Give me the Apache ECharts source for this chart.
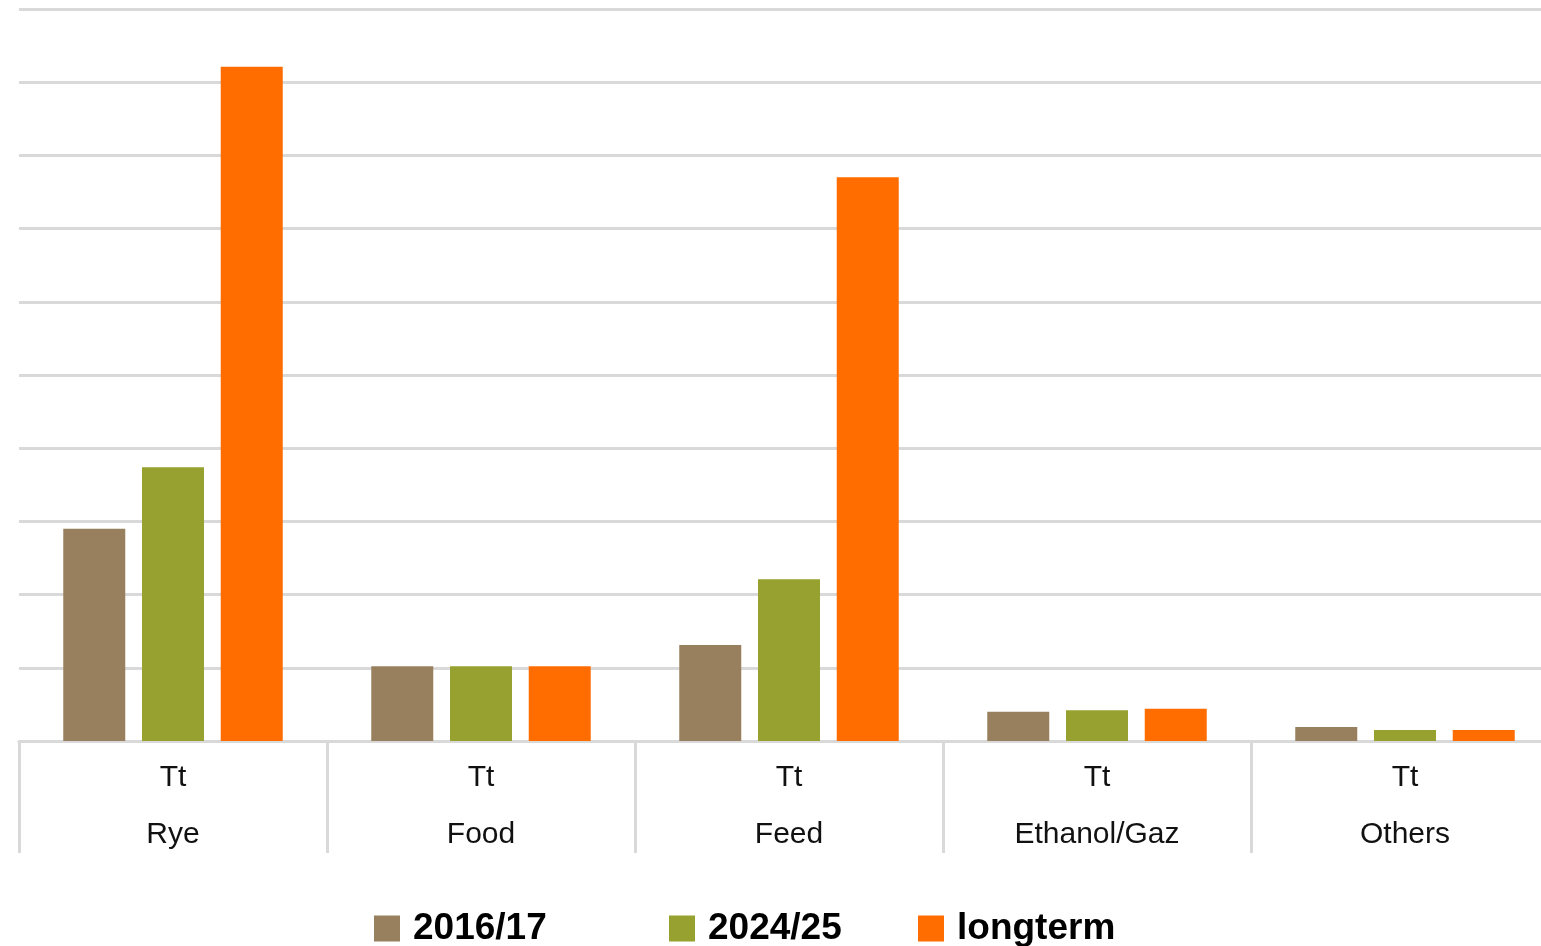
<!DOCTYPE html>
<html>

<head>
    <meta charset="UTF-8">
    <script src="https://cdn.jsdelivr.net/npm/echarts@6.0.0/dist/echarts.min.js"></script>
    <style>
        html, body { margin: 0; padding: 0; background: #fff; }
    </style>
</head>

<body>
    <div id="main" style="width: 1541px; height: 946px;"></div>
    <script>
        // categories and unit row
        var categories = ['Rye', 'Food', 'Feed', 'Ethanol/Gaz', 'Others'];
        var unitLabel = 'Tt';
        var seriesNames = ['2016/17', '2024/25', 'longterm'];

        // values (one gridline = 1)
        var values2016 = [2.90, 1.02, 1.31, 0.40, 0.19];
        var values2024 = [3.74, 1.02, 2.21, 0.42, 0.15];
        var valuesLongterm = [9.21, 1.02, 7.70, 0.44, 0.15];

        var colors = ['#98805E', '#97A12F', '#FF6D00'];
        var legendLeft = [374, 669, 918];

        var myChart = echarts.init(document.getElementById('main'));
        var font = 'Liberation Sans, Arial, sans-serif';

        var seriesData = [values2016, values2024, valuesLongterm];
        var series = seriesNames.map(function (name, i) {
            return {
                name: name,
                type: 'bar',
                data: seriesData[i],
                barWidth: 62,
                barGap: '27%',
                itemStyle: { color: colors[i] }
            };
        });

        var legends = seriesNames.map(function (name, i) {
            return {
                data: [name],
                left: legendLeft[i],
                top: 910,
                padding: 0,
                itemWidth: 26,
                itemHeight: 26,
                itemGap: 13,
                icon: 'rect',
                textStyle: {
                    fontFamily: font,
                    fontWeight: 'bold',
                    fontSize: 37,
                    color: '#000',
                    padding: [0, 0, 0, 8]
                }
            };
        });

        var option = {
            animation: false,
            backgroundColor: '#fff',
            color: colors,
            legend: legends,
            grid: {
                left: 19,
                top: 9,
                width: 1540,
                height: 732,
                outerBoundsMode: 'none',
                containLabel: false
            },
            xAxis: {
                type: 'category',
                data: categories,
                axisLine: { lineStyle: { color: '#D9D9D9', width: 3 } },
                axisTick: {
                    show: true,
                    length: 112,
                    lineStyle: { color: '#D9D9D9', width: 3 }
                },
                axisLabel: {
                    margin: 8,
                    fontFamily: font,
                    fontSize: 30,
                    lineHeight: 57,
                    color: '#111',
                    formatter: function (v) { return unitLabel + '\n' + v; }
                }
            },
            yAxis: {
                type: 'value',
                min: 0,
                max: 10,
                interval: 1,
                axisLabel: { show: false },
                axisLine: { show: false },
                axisTick: { show: false },
                splitLine: { lineStyle: { color: '#D9D9D9', width: 3 } }
            },
            series: series
        };

        option && myChart.setOption(option);
    </script>
</body>

</html>
